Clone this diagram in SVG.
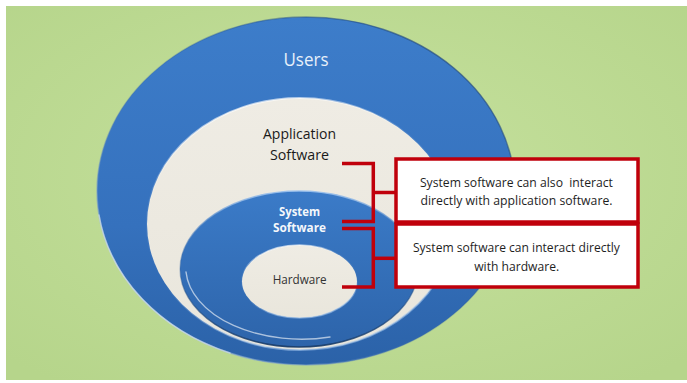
<svg xmlns="http://www.w3.org/2000/svg" width="687" height="383" viewBox="0 0 687 383">
<style>
.lbl{font-family:"Open Sans","Liberation Sans",sans-serif;text-anchor:middle}
.box{fill:#ffffff;stroke:#c0000b;stroke-width:3.5}
.conn{fill:none;stroke:#c0000b;stroke-width:3.5;stroke-linejoin:miter;stroke-linecap:butt}
.note{font-size:12.5px;fill:#1e1e1e}
.hl{fill:none;stroke:#ffffff;stroke-linecap:round}
</style>
<defs>
<radialGradient id="bg" cx="0.5" cy="0.45" r="0.7">
<stop offset="0" stop-color="#c6e19e"/>
<stop offset="1" stop-color="#b6d58b"/>
</radialGradient>
<linearGradient id="blue" x1="0" y1="0" x2="0" y2="1">
<stop offset="0" stop-color="#3d7dca"/>
<stop offset="0.6" stop-color="#3571bd"/>
<stop offset="1" stop-color="#2b62a8"/>
</linearGradient>
<linearGradient id="blue2" x1="0" y1="0" x2="0" y2="1">
<stop offset="0" stop-color="#3b7bc8"/>
<stop offset="1" stop-color="#2d64aa"/>
</linearGradient>
<linearGradient id="cream" x1="0" y1="0" x2="0" y2="1">
<stop offset="0" stop-color="#efece4"/>
<stop offset="1" stop-color="#e9e6dc"/>
</linearGradient>
<linearGradient id="rimLight" x1="0" y1="0" x2="0.3" y2="1">
<stop offset="0" stop-color="#ffffff" stop-opacity="0.9"/>
<stop offset="0.35" stop-color="#ffffff" stop-opacity="0.1"/>
<stop offset="0.7" stop-color="#ffffff" stop-opacity="0"/>
<stop offset="1" stop-color="#9fc2ea" stop-opacity="0.6"/>
</linearGradient>
<linearGradient id="rimSys" x1="0" y1="0" x2="0" y2="1">
<stop offset="0" stop-color="#9cc2ee" stop-opacity="0.9"/>
<stop offset="0.5" stop-color="#2a5b9a" stop-opacity="0.3"/>
<stop offset="1" stop-color="#173a66" stop-opacity="0.9"/>
</linearGradient>
<linearGradient id="rimBlue" x1="1" y1="0" x2="0" y2="1">
<stop offset="0" stop-color="#1e3f6a" stop-opacity="0.8"/>
<stop offset="0.5" stop-color="#2a5b9a" stop-opacity="0.2"/>
<stop offset="1" stop-color="#bcd6f3" stop-opacity="0.9"/>
</linearGradient>
</defs>

<rect x="0" y="0" width="687" height="383" fill="#ffffff"/>
<rect x="6" y="6" width="681" height="374" fill="url(#bg)"/>

<g id="users">
<ellipse cx="306" cy="191" rx="209" ry="174" fill="url(#blue)" stroke="url(#rimBlue)" stroke-width="1.5"/>
<path class="hl" d="M99,215 A209,174 0 0 0 230,353" stroke-opacity="0.45" stroke-width="1.5"/>
<text class="lbl" x="306" y="66" font-size="18.5" fill="#e8f0fa" textLength="45" lengthAdjust="spacingAndGlyphs">Users</text>
</g>

<g id="application-software">
<ellipse cx="300" cy="224" rx="153" ry="126" fill="url(#cream)" stroke="url(#rimLight)" stroke-width="2"/>
<text class="lbl" x="299.5" y="139" font-size="14.5" fill="#1a1a1a" textLength="73" lengthAdjust="spacingAndGlyphs">Application</text>
<text class="lbl" x="299.5" y="160" font-size="14.5" fill="#1a1a1a" textLength="59" lengthAdjust="spacingAndGlyphs">Software</text>
</g>

<g id="system-software">
<ellipse cx="299" cy="269" rx="119" ry="78" fill="url(#blue2)" stroke="url(#rimSys)" stroke-width="1.4"/>
<path class="hl" d="M186,272 A116,72 0 0 0 330,337" stroke-opacity="0.6" stroke-width="1.4"/>
<text class="lbl" x="299.5" y="215.5" font-size="12.5" font-weight="bold" fill="#f4f7fb" textLength="41" lengthAdjust="spacingAndGlyphs">System</text>
<text class="lbl" x="299.5" y="231.5" font-size="12.5" font-weight="bold" fill="#f4f7fb" textLength="53" lengthAdjust="spacingAndGlyphs">Software</text>
</g>

<g id="hardware">
<ellipse cx="299.5" cy="281.5" rx="57.5" ry="36.5" fill="url(#cream)" stroke="url(#rimLight)" stroke-width="1.6"/>
<text class="lbl" x="299.7" y="284" font-size="12.5" fill="#333333" textLength="54" lengthAdjust="spacingAndGlyphs">Hardware</text>
</g>

<g id="connectors">
<path class="conn" d="M342,163.5 H373.3 V221.5 H342"/>
<path class="conn" d="M373.3,192.5 H396"/>
<path class="conn" d="M342,228.5 H373.3 V287 H342"/>
<path class="conn" d="M373.3,258.3 H396"/>
</g>

<g id="note-application">
<rect class="box" x="396" y="159" width="242" height="63"/>
<text class="lbl note" x="516.4" y="187.3" xml:space="preserve" textLength="193" lengthAdjust="spacingAndGlyphs">System software can also  interact</text>
<text class="lbl note" x="516.5" y="205" textLength="192" lengthAdjust="spacingAndGlyphs">directly with application software.</text>
</g>

<g id="note-hardware">
<rect class="box" x="396" y="224" width="242" height="63"/>
<text class="lbl note" x="516.4" y="252.4" textLength="207" lengthAdjust="spacingAndGlyphs">System software can interact directly</text>
<text class="lbl note" x="516.7" y="270.6" textLength="85" lengthAdjust="spacingAndGlyphs">with hardware.</text>
</g>
</svg>
